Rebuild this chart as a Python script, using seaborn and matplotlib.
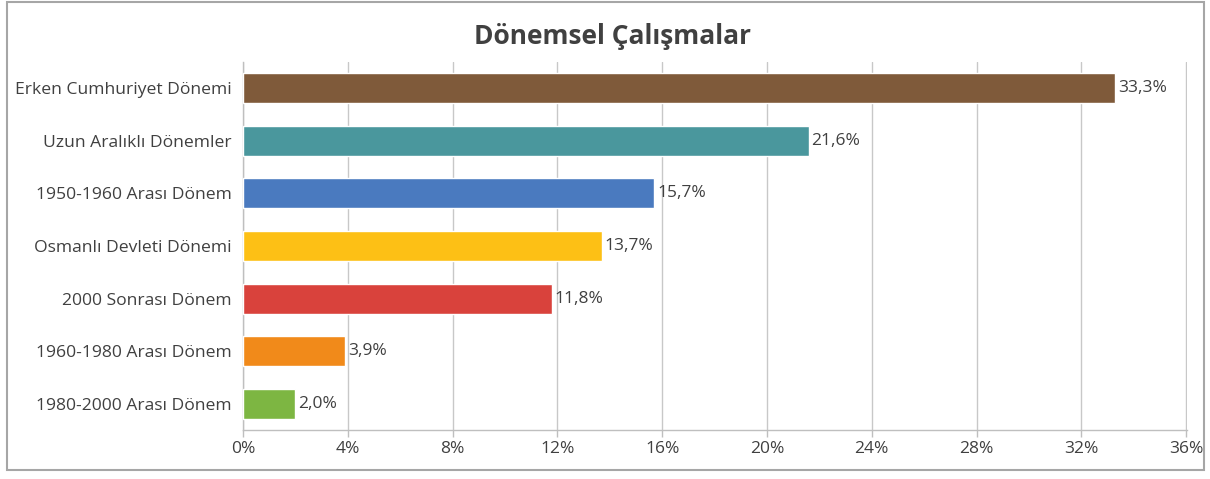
import matplotlib
matplotlib.use("Agg")
import matplotlib.pyplot as plt
import seaborn as sns
import pandas as pd
from matplotlib.patches import Rectangle

# veri
donemler = ['Erken Cumhuriyet Dönemi', 'Uzun Aralıklı Dönemler', '1950-1960 Arası Dönem',
            'Osmanlı Devleti Dönemi', '2000 Sonrası Dönem', '1960-1980 Arası Dönem',
            '1980-2000 Arası Dönem']
oranlar = [33.3, 21.6, 15.7, 13.7, 11.8, 3.9, 2.0]
renkler = ['#7F5A3A', '#4A979D', '#4A7ABF', '#FDC015', '#D9423C', '#F18A1A', '#7DB642']
x_ticks = [0, 4, 8, 12, 16, 20, 24, 28, 32, 36]

sns.set_style('white')
plt.rcParams['font.family'] = ['Open Sans', 'DejaVu Sans']

df = pd.DataFrame({'donem': donemler, 'oran': oranlar})

fig = plt.figure(figsize=(12.1, 4.79), dpi=100)
ax = fig.add_axes([0.2008, 0.1023, 0.7802, 0.7683])

sns.barplot(data=df, x='oran', y='donem', hue='donem', palette=renkler,
            legend=False, width=0.57, saturation=1, ax=ax, zorder=3)

ax.set_xlim(0, 36.03)
ax.set_xticks(x_ticks)
ax.set_xticklabels([f'{t}%' for t in x_ticks])
ax.set_xlabel('')
ax.set_ylabel('')
ax.grid(axis='x', color='#C8C8C8', linewidth=1, zorder=0)
ax.set_axisbelow(True)

for s in ['top', 'right']:
    ax.spines[s].set_visible(False)
for s in ['left', 'bottom']:
    ax.spines[s].set_color('#BFBFBF')
    ax.spines[s].set_linewidth(1)

ax.tick_params(axis='x', colors='#BFBFBF', labelcolor='#404040', labelsize=12.5,
               length=5, width=1, direction='out', bottom=True, pad=3)
ax.tick_params(axis='y', labelcolor='#404040', labelsize=12.6, length=0, pad=8)

for i, v in enumerate(oranlar):
    ax.text(v + 0.1, i, f'{v:.1f}%'.replace('.', ','), va='center', ha='left',
            fontsize=12.5, color='#404040')

fig.suptitle('Dönemsel Çalışmalar', fontsize=19, fontweight='bold', color='#404040',
             x=0.506, y=0.953)

fig.patches.append(Rectangle((7 / 1210, 1 - 470 / 479), 1197 / 1210, 468 / 479,
                             transform=fig.transFigure, fill=False,
                             edgecolor='#A6A6A6', linewidth=1.5))

fig.savefig('out.png', dpi=100)
